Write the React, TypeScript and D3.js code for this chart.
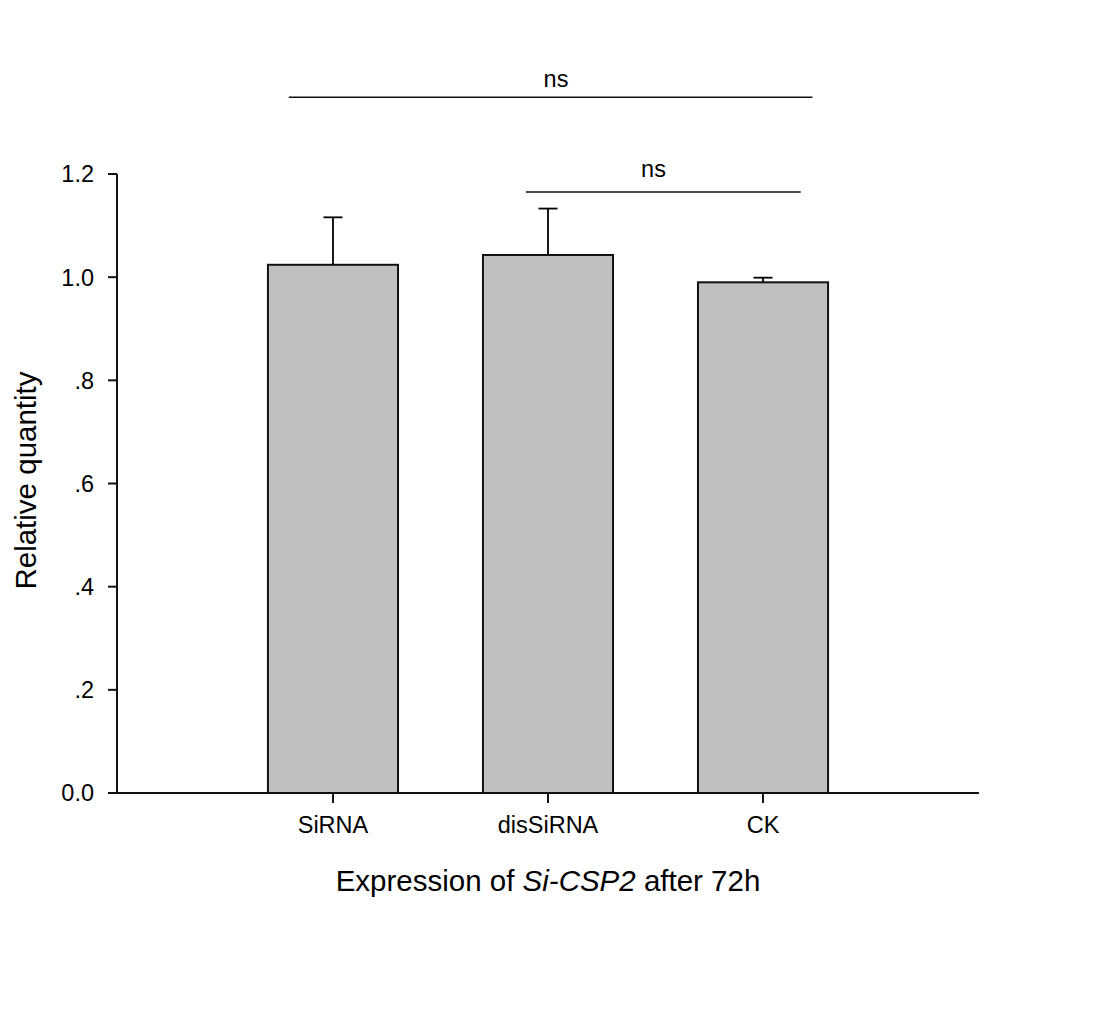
import React from "react";
import * as d3 from "d3";

const categories = ["SiRNA", "disSiRNA", "CK"];
const means = [1.024, 1.043, 0.99];
const errors = [0.092, 0.09, 0.009];
const yTickValues = [0, 0.2, 0.4, 0.6, 0.8, 1.0, 1.2];
const yTickLabels = ["0.0", ".2", ".4", ".6", ".8", "1.0", "1.2"];
const bracketFrom = ["SiRNA", "disSiRNA"];
const bracketTo = ["CK", "CK"];
const bracketLevel = [1.349, 1.165];
const bracketLabels = ["ns", "ns"];

const W = 1104;
const H = 1032;
const FONT = "'Liberation Sans', Arial, sans-serif";

export default function App() {
  const left = 117;
  const right = 979;
  const bottom = 793;
  const top = 174;

  const x = d3
    .scaleBand<string>()
    .domain(categories)
    .range([left, right])
    .paddingInner(0.395)
    .paddingOuter(0.702);
  const y = d3.scaleLinear().domain([0, 1.2]).range([bottom, top]);
  const bw = x.bandwidth();
  const cx = (c: string) => (x(c) as number) + bw / 2;

  const bracketX1Off = [-0.34, -0.17];
  const bracketX2Off = [0.38, 0.29];
  const labelX = [cx("disSiRNA") + 8, (cx("disSiRNA") + cx("CK")) / 2 - 2];
  const labelGap = [10, 15];

  return (
    <svg
      width={W}
      height={H}
      style={{ position: "absolute", left: 0, top: 0, background: "#fff" }}
      fontFamily={FONT}
    >
      <rect x={0} y={0} width={W} height={H} fill="#fff" />
      {categories.map((c, i) => (
        <g key={c}>
          <line
            x1={cx(c)}
            x2={cx(c)}
            y1={y(means[i])}
            y2={y(means[i] + errors[i])}
            stroke="#000"
            strokeWidth={1.8}
          />
          <line
            x1={cx(c) - 9.5}
            x2={cx(c) + 9.5}
            y1={y(means[i] + errors[i])}
            y2={y(means[i] + errors[i])}
            stroke="#000"
            strokeWidth={1.8}
          />
          <rect
            x={x(c)}
            y={y(means[i])}
            width={bw}
            height={y(0) - y(means[i])}
            fill="#c0c0c0"
            stroke="#111"
            strokeWidth={2}
          />
        </g>
      ))}
      <line x1={left} x2={left} y1={top} y2={bottom} stroke="#111" strokeWidth={2} />
      {yTickValues.map((v, i) => (
        <g key={v}>
          <line x1={left - 9} x2={left} y1={y(v)} y2={y(v)} stroke="#111" strokeWidth={2} />
          <text
            x={left - 23}
            y={y(v)}
            dy="0.36em"
            textAnchor="end"
            fontSize={23.5}
            fill="#000"
          >
            {yTickLabels[i]}
          </text>
        </g>
      ))}
      <line x1={left} x2={right} y1={bottom} y2={bottom} stroke="#111" strokeWidth={2} />
      {categories.map((c) => (
        <g key={c}>
          <line x1={cx(c)} x2={cx(c)} y1={bottom} y2={bottom + 10} stroke="#111" strokeWidth={2} />
          <text x={cx(c)} y={833} textAnchor="middle" fontSize={23.5} fill="#000">
            {c}
          </text>
        </g>
      ))}
      <text
        transform={`translate(36, ${(top + bottom) / 2 - 3}) rotate(-90)`}
        textAnchor="middle"
        fontSize={29.5}
        fill="#000"
      >
        Relative quantity
      </text>
      <text x={(left + right) / 2} y={891} textAnchor="middle" fontSize={29.5} fill="#000">
        Expression of <tspan fontStyle="italic">Si-CSP2</tspan> after 72h
      </text>
      {bracketFrom.map((f, i) => {
        const x1 = cx(f) + bracketX1Off[i] * bw;
        const x2 = cx(bracketTo[i]) + bracketX2Off[i] * bw;
        const yy = y(bracketLevel[i]);
        return (
          <g key={i}>
            <line x1={x1} x2={x2} y1={yy} y2={yy} stroke="#111" strokeWidth={1.5} />
            <text x={labelX[i]} y={yy - labelGap[i]} textAnchor="middle" fontSize={23.5} fill="#000">
              {bracketLabels[i]}
            </text>
          </g>
        );
      })}
    </svg>
  );
}
